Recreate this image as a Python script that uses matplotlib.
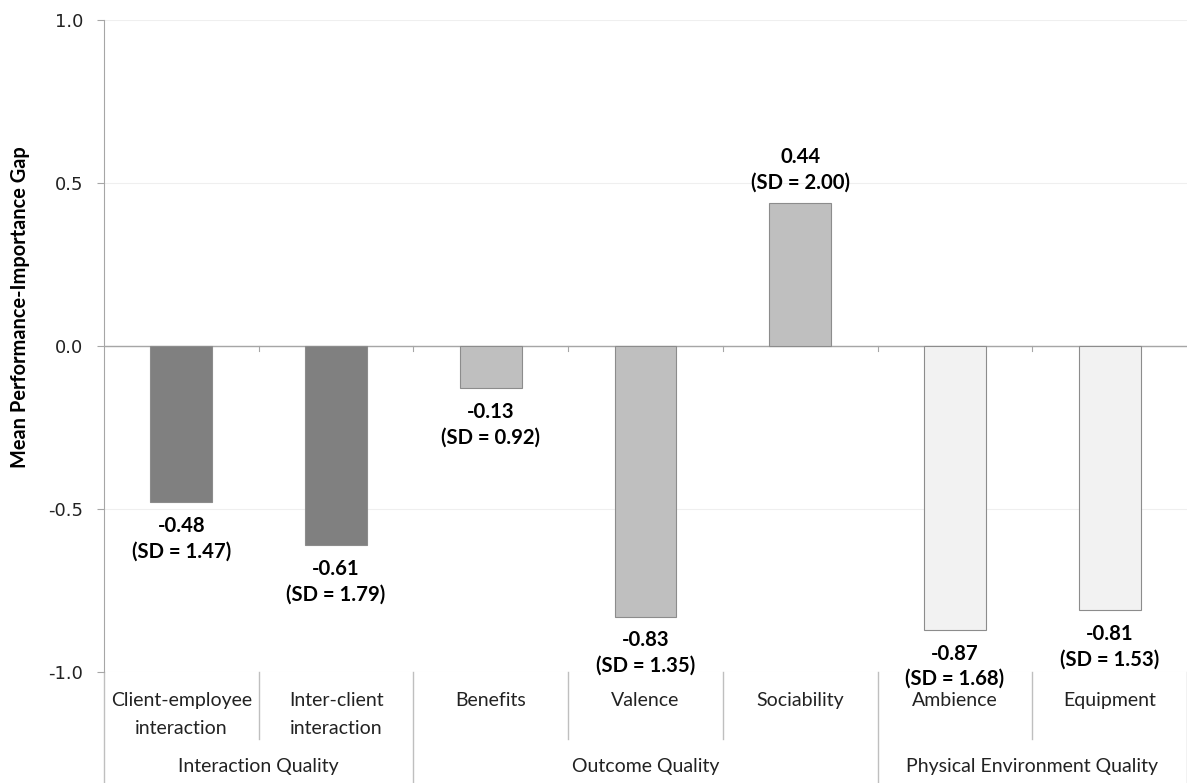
import matplotlib
matplotlib.use("Agg")
from matplotlib import pyplot as plt

# Service quality dimensions and their mean performance-importance gaps
categories = ["Client-employee\ninteraction", "Inter-client\ninteraction", "Benefits",
              "Valence", "Sociability", "Ambience", "Equipment"]
gaps = [-0.48, -0.61, -0.13, -0.83, 0.44, -0.87, -0.81]
sds = [1.47, 1.79, 0.92, 1.35, 2.00, 1.68, 1.53]
groups = ["Interaction Quality", "Outcome Quality", "Physical Environment Quality"]
group_sizes = [2, 3, 2]
group_colors = ["#808080", "#bfbfbf", "#f2f2f2"]

TEXT_FONT = ["Lato", "DejaVu Sans"]
GRID = "#efefef"
AXIS = "#a6a6a6"

fig = plt.figure(figsize=(11.87, 7.83), dpi=100)
ax = fig.add_axes([104 / 1187, 1 - 672 / 783, 1 - 104 / 1187, (672 - 20) / 783])

colors = []
for c, n in zip(group_colors, group_sizes):
    colors += [c] * n

xs = list(range(len(categories)))
ax.bar(xs, gaps, width=0.4, color=colors, edgecolor="#8c8c8c", linewidth=0.8, zorder=3)

ax.set_xlim(-0.5, len(categories) - 0.5)
ax.set_ylim(-1.0, 1.0)
yt = [-1.0, -0.5, 0.0, 0.5, 1.0]
ax.set_yticks(yt)
ax.set_yticklabels([f"{v:.1f}" for v in yt], fontsize=13, color="#222222")
ax.tick_params(axis="y", length=5, width=0.8, color=AXIS, pad=10)
ax.set_xticks([])
ax.grid(axis="y", color=GRID, linewidth=0.8, zorder=0)
ax.set_axisbelow(True)
for side in ["top", "right", "bottom"]:
    ax.spines[side].set_visible(False)
ax.spines["left"].set_color(AXIS)
ax.axhline(0, color=AXIS, linewidth=1.0, zorder=2)

ax.set_ylabel("Mean Performance-Importance Gap", fontsize=14.4, fontweight="bold",
              family=TEXT_FONT)
ax.yaxis.set_label_coords(-0.068, 0.56)

# small ticks on the zero line between categories
for b in range(1, len(categories)):
    ax.plot([b - 0.5, b - 0.5], [0, -0.016], color=AXIS, linewidth=0.8, zorder=2)

# value labels
for x, g, s in zip(xs, gaps, sds):
    label = f"{g:.2f}\n(SD = {s:.2f})"
    if g < 0:
        ax.annotate(label, (x, g), xytext=(0, -10), textcoords="offset points",
                    ha="center", va="top", fontsize=14.6, fontweight="bold",
                    family=TEXT_FONT, linespacing=1.35, zorder=4)
    else:
        ax.annotate(label, (x, g), xytext=(0, 7), textcoords="offset points",
                    ha="center", va="bottom", fontsize=14.6, fontweight="bold",
                    family=TEXT_FONT, linespacing=1.35, zorder=4)

# two-level category axis below the plot
tr = ax.get_xaxis_transform()
for x, name in zip(xs, categories):
    ax.text(x, -0.031, name, transform=tr, ha="center", va="top", fontsize=14,
            family=TEXT_FONT, color="#222222", linespacing=1.75)

bounds = [0]
for n in group_sizes:
    bounds.append(bounds[-1] + n)
group_edges = set(bounds)
for b in range(len(categories) + 1):
    y_end = -0.17 if b in group_edges else -0.102
    ax.plot([b - 0.5, b - 0.5], [0, y_end], transform=tr, color="#bfbfbf",
            linewidth=1.0, clip_on=False)

for i, name in enumerate(groups):
    mid = (bounds[i] + bounds[i + 1]) / 2 - 0.5
    ax.text(mid, -0.1457, name, transform=tr, ha="center", va="center", fontsize=14,
            family=TEXT_FONT, color="#222222")

plt.savefig("out.png", dpi=100)
